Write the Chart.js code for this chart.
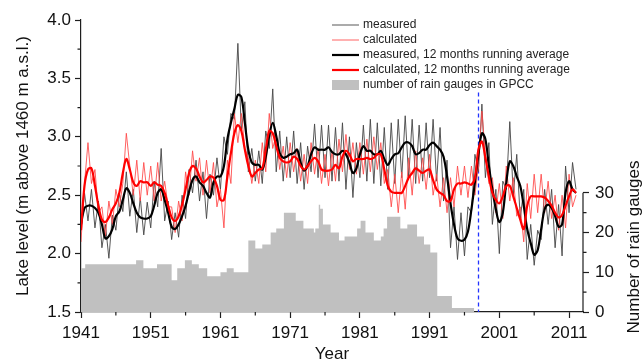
<!DOCTYPE html>
<html>
<head>
<meta charset="utf-8">
<title>Lake level and rain gauges</title>
<script src="https://cdn.jsdelivr.net/npm/chart.js@4.4.0/dist/chart.umd.min.js"></script>
<style>
  html, body { margin: 0; padding: 0; background: #fff; }
  #lakeChart { display: block; }
</style>
</head>
<body>
<canvas id="lakeChart" width="642" height="361"></canvas>
<script>
// half-year samples, first one at January 1941
const startYear = 1941;
const sampleStep = 0.5;

// lake level, m above 1460 m a.s.l.
const measuredLevel = [
  2.20, 2.52, 2.28, 2.55, 2.22, 2.45, 2.05, 2.25, 1.96, 2.33,
  2.20, 2.52, 2.36, 2.70, 2.32, 2.55, 2.18, 2.48, 2.16, 2.44,
  2.22, 2.62, 2.40, 2.90, 2.28, 2.45, 2.12, 2.35, 2.14, 2.50,
  2.30, 2.72, 2.52, 2.80, 2.45, 2.70, 2.30, 2.68, 2.50, 2.82,
  2.55, 3.00, 2.85, 3.20, 3.15, 3.80, 3.05, 3.30, 2.70, 2.90,
  2.62, 2.88, 2.60, 3.05, 2.90, 3.41, 2.70, 3.05, 2.62, 3.00,
  2.65, 3.05, 2.60, 2.95, 2.55, 2.92, 2.70, 3.11, 2.65, 3.10,
  2.65, 3.10, 2.62, 3.08, 2.62, 3.12, 2.55, 3.00, 2.48, 2.95,
  2.65, 3.10, 2.62, 3.15, 2.60, 3.12, 2.58, 3.08, 2.55, 3.12,
  2.60, 3.15, 2.65, 3.18, 2.65, 3.15, 2.60, 3.10, 2.62, 3.12,
  2.65, 3.15, 2.62, 3.08, 2.45, 2.80, 2.05, 2.40, 1.95, 2.35,
  1.98, 2.40, 2.35, 2.85, 2.70, 3.28, 2.65, 2.95, 2.25, 2.55,
  2.00, 2.62, 2.55, 3.13, 2.50, 2.85, 2.30, 2.55, 1.95, 2.25,
  1.90, 2.20, 2.12, 2.55, 2.25, 2.55, 2.05, 2.42, 1.98, 2.75,
  2.35, 2.78, 2.55
];

const calculatedLevel = [
  2.10, 2.60, 2.95, 2.60, 2.72, 2.35, 2.40, 2.15, 2.45, 2.25,
  2.55, 2.40, 2.60, 3.03, 2.75, 2.50, 2.80, 2.45, 2.78, 2.50,
  2.75, 2.45, 2.78, 2.45, 2.62, 2.40, 2.40, 2.18, 2.45, 2.28,
  2.70, 2.50, 2.88, 2.62, 2.82, 2.50, 2.80, 2.52, 2.78, 2.40,
  2.55, 2.22, 2.80, 2.60, 3.20, 2.95, 3.20, 2.90, 2.82, 2.60,
  2.80, 2.60, 2.95, 2.70, 3.20, 2.90, 3.02, 2.72, 2.92, 2.65,
  2.95, 2.70, 2.90, 2.62, 2.85, 2.60, 2.95, 2.68, 2.90, 2.60,
  2.85, 2.58, 2.88, 2.62, 2.98, 2.70, 3.02, 2.72, 2.95, 2.68,
  2.95, 2.68, 2.98, 2.70, 3.00, 2.72, 2.95, 2.60, 2.72, 2.40,
  2.68, 2.35, 2.70, 2.38, 2.82, 2.50, 2.88, 2.60, 2.82, 2.55,
  2.85, 2.50, 2.68, 2.40, 2.65, 2.35, 2.65, 2.40, 2.75, 2.50,
  2.75, 2.48, 2.75, 2.50, 2.75, 3.22, 2.85, 2.60, 2.65, 2.35,
  2.60, 2.30, 2.75, 2.45, 2.65, 2.32, 2.40, 2.10, 2.60, 2.30,
  2.68, 2.35, 2.68, 2.35, 2.62, 2.30, 2.50, 2.20, 2.50, 2.22,
  2.68, 2.40, 2.50
];

// 12 months running averages
const measuredAvg = [
  2.25, 2.39, 2.41, 2.41, 2.39, 2.35, 2.25, 2.13, 2.15, 2.21,
  2.32, 2.36, 2.46, 2.56, 2.52, 2.43, 2.35, 2.31, 2.30, 2.30,
  2.32, 2.41, 2.52, 2.55, 2.46, 2.35, 2.23, 2.21, 2.25, 2.32,
  2.41, 2.53, 2.63, 2.66, 2.61, 2.58, 2.52, 2.48, 2.61, 2.66,
  2.66, 2.75, 2.98, 3.12, 3.24, 3.36, 3.34, 3.12, 2.89, 2.78,
  2.76, 2.76, 2.72, 2.83, 3.01, 3.12, 3.01, 2.86, 2.82, 2.83,
  2.85, 2.86, 2.89, 2.78, 2.71, 2.75, 2.85, 2.91, 2.89, 2.89,
  2.89, 2.91, 2.87, 2.85, 2.85, 2.88, 2.85, 2.78, 2.69, 2.73,
  2.85, 2.92, 2.88, 2.88, 2.85, 2.85, 2.88, 2.81, 2.76, 2.81,
  2.85, 2.86, 2.91, 2.95, 2.95, 2.92, 2.85, 2.86, 2.89, 2.89,
  2.93, 2.95, 2.92, 2.89, 2.83, 2.66, 2.43, 2.25, 2.13, 2.11,
  2.12, 2.19, 2.38, 2.61, 2.85, 3.03, 2.98, 2.75, 2.55, 2.38,
  2.27, 2.35, 2.61, 2.79, 2.75, 2.66, 2.58, 2.41, 2.21, 2.09,
  1.99, 2.03, 2.21, 2.38, 2.42, 2.39, 2.32, 2.23, 2.25, 2.52,
  2.62, 2.55, 2.52
];

const calculatedAvg = [
  2.20, 2.58, 2.72, 2.73, 2.58, 2.41, 2.29, 2.27, 2.31, 2.38,
  2.43, 2.52, 2.69, 2.81, 2.72, 2.61, 2.58, 2.62, 2.61, 2.61,
  2.58, 2.61, 2.59, 2.58, 2.52, 2.41, 2.31, 2.28, 2.32, 2.42,
  2.55, 2.69, 2.75, 2.73, 2.66, 2.61, 2.63, 2.66, 2.65, 2.58,
  2.46, 2.46, 2.66, 2.86, 3.03, 3.10, 3.05, 2.89, 2.75, 2.66,
  2.69, 2.72, 2.73, 2.89, 3.05, 3.03, 2.92, 2.82, 2.79, 2.78,
  2.79, 2.83, 2.81, 2.75, 2.72, 2.75, 2.79, 2.82, 2.79, 2.72,
  2.71, 2.71, 2.72, 2.76, 2.73, 2.83, 2.88, 2.85, 2.79, 2.81,
  2.81, 2.81, 2.82, 2.81, 2.82, 2.85, 2.85, 2.72, 2.58, 2.53,
  2.52, 2.52, 2.52, 2.58, 2.65, 2.69, 2.73, 2.71, 2.69, 2.71,
  2.72, 2.63, 2.55, 2.52, 2.50, 2.45, 2.45, 2.55, 2.60, 2.60,
  2.61, 2.60, 2.59, 2.65, 2.89, 2.96, 2.82, 2.66, 2.52, 2.46,
  2.43, 2.49, 2.58, 2.58, 2.49, 2.39, 2.29, 2.21, 2.41, 2.49,
  2.49, 2.49, 2.49, 2.48, 2.45, 2.41, 2.35, 2.31, 2.33, 2.41,
  2.49, 2.55, 2.52
];

// GPCC rain gauges: count valid from each year until the next one
const gaugeYears = [
  1941.0, 1941.6, 1948.9, 1949.95, 1951.9, 1954.0, 1954.8, 1955.9, 1956.9, 1957.9,
  1959.1, 1961.0, 1961.9, 1962.9, 1965.0, 1966.0, 1967.0, 1968.2, 1969.0, 1970.1,
  1971.8, 1972.9, 1974.4, 1974.6, 1975.1, 1975.3, 1975.7, 1976.8, 1978.0, 1978.8,
  1980.6, 1981.1, 1981.8, 1983.0, 1984.0, 1984.4, 1984.9, 1986.8, 1987.8, 1989.2,
  1990.2, 1991.1, 1992.1, 1994.2, 1997.4
];
const gaugeCounts = [
  11, 12, 13, 11, 12, 8, 11, 13, 12, 11,
  9, 10, 11, 10, 18, 16, 17, 20, 21, 25,
  23, 21, 20, 21, 27, 26, 22, 20, 18, 19,
  21, 23, 20, 18, 19, 21, 24, 21, 22, 19,
  17, 15, 4, 1, 0
];

// axes
const yearTicks = [1941, 1951, 1961, 1971, 1981, 1991, 2001, 2011];
const yearMinor = [1946, 1956, 1966, 1976, 1986, 1996, 2006];
const levelTicks = [1.5, 2.0, 2.5, 3.0, 3.5, 4.0];
const levelMinor = [1.75, 2.25, 2.75, 3.25, 3.75];
const gaugeTicks = [0, 10, 20, 30];
const gaugeMinor = [5, 15, 25];
const gaugeAxisMax = 73.5;

// dashed marker
const markerYear = 1998;
const markerTop = 3.38;

const axisColor = '#1e1e1e';
const fontFamily = '"Liberation Sans", Arial, sans-serif';

const toPoints = arr => arr.map((v, i) => ({ x: startYear + i * sampleStep, y: v }));

Chart.defaults.font.family = fontFamily;
Chart.defaults.color = '#111';

const extras = {
  id: 'extras',
  beforeDatasetsDraw(chart) {
    const { ctx, scales: { x, y } } = chart;
    const px = Math.round(x.getPixelForValue(markerYear)) + 0.5;
    ctx.save();
    ctx.strokeStyle = '#2233ff';
    ctx.lineWidth = 1.3;
    ctx.setLineDash([4, 3]);
    ctx.beginPath();
    ctx.moveTo(px, y.getPixelForValue(markerTop));
    ctx.lineTo(px, y.getPixelForValue(1.5));
    ctx.stroke();
    ctx.restore();
  },
  afterDraw(chart) {
    const { ctx, chartArea: a, scales: { x, y, y1 } } = chart;
    ctx.save();

    // minor ticks and the short right spine
    ctx.strokeStyle = axisColor;
    ctx.lineWidth = 1.2;
    ctx.beginPath();
    yearMinor.forEach(v => {
      const px = x.getPixelForValue(v);
      ctx.moveTo(px, a.bottom);
      ctx.lineTo(px, a.bottom + 3.5);
    });
    levelMinor.forEach(v => {
      const py = y.getPixelForValue(v);
      ctx.moveTo(a.left, py);
      ctx.lineTo(a.left - 3.5, py);
    });
    gaugeMinor.forEach(v => {
      const py = y1.getPixelForValue(v);
      ctx.moveTo(a.right, py);
      ctx.lineTo(a.right + 3.5, py);
    });
    ctx.moveTo(a.right, y1.getPixelForValue(0));
    ctx.lineTo(a.right, y1.getPixelForValue(gaugeTicks[gaugeTicks.length - 1]));
    ctx.stroke();

    // axis titles
    ctx.fillStyle = '#111';
    ctx.font = '17px ' + fontFamily;
    ctx.textAlign = 'center';
    ctx.textBaseline = 'alphabetic';
    ctx.fillText('Year', (a.left + a.right) / 2, 359);

    ctx.save();
    ctx.translate(28, (a.top + a.bottom) / 2);
    ctx.rotate(-Math.PI / 2);
    ctx.fillText('Lake level (m above 1460 m a.s.l.)', 0, 0);
    ctx.restore();

    ctx.save();
    ctx.translate(639, 247);
    ctx.rotate(-Math.PI / 2);
    ctx.fillText('Number of rain gauges', 0, 0);
    ctx.restore();

    // legend
    ctx.font = '12px ' + fontFamily;
    ctx.textAlign = 'left';
    ctx.textBaseline = 'middle';
    chart.data.datasets.forEach((ds, i) => {
      const ly = 25 + i * 15;
      if (ds.fill) {
        ctx.fillStyle = ds.backgroundColor;
        ctx.fillRect(332, ly - 5, 27, 10);
      } else {
        ctx.strokeStyle = ds.borderColor;
        ctx.lineWidth = ds.borderWidth;
        ctx.beginPath();
        ctx.moveTo(332, ly);
        ctx.lineTo(359, ly);
        ctx.stroke();
      }
      ctx.fillStyle = '#222';
      ctx.fillText(ds.label, 363, ly);
    });

    ctx.restore();
  }
};

new Chart(document.getElementById('lakeChart'), {
  type: 'line',
  data: {
    datasets: [
      {
        label: 'measured',
        data: toPoints(measuredLevel),
        borderColor: 'rgba(70,70,70,0.9)',
        borderWidth: 1,
        pointRadius: 0,
        tension: 0,
        yAxisID: 'y',
        order: 5
      },
      {
        label: 'calculated',
        data: toPoints(calculatedLevel),
        borderColor: 'rgba(255,70,70,0.85)',
        borderWidth: 1,
        pointRadius: 0,
        tension: 0,
        yAxisID: 'y',
        order: 4
      },
      {
        label: 'measured, 12 months running average',
        data: toPoints(measuredAvg),
        borderColor: '#000000',
        borderWidth: 2.2,
        pointRadius: 0,
        tension: 0.35,
        yAxisID: 'y',
        order: 3
      },
      {
        label: 'calculated, 12 months running average',
        data: toPoints(calculatedAvg),
        borderColor: '#ff0000',
        borderWidth: 2.2,
        pointRadius: 0,
        tension: 0.35,
        yAxisID: 'y',
        order: 2
      },
      {
        label: 'number of rain gauges in GPCC',
        data: gaugeYears.map((yr, i) => ({ x: yr, y: gaugeCounts[i] })),
        stepped: 'before',
        fill: 'origin',
        backgroundColor: '#c0c0c0',
        borderColor: 'rgba(0,0,0,0)',
        borderWidth: 0,
        pointRadius: 0,
        yAxisID: 'y1',
        order: 10
      }
    ]
  },
  options: {
    responsive: false,
    animation: false,
    layout: { padding: { top: 20, left: 0, right: 0, bottom: 0 } },
    plugins: {
      legend: { display: false },
      tooltip: { enabled: false }
    },
    scales: {
      x: {
        type: 'linear',
        min: 1941,
        max: 2013,
        afterBuildTicks: s => { s.ticks = yearTicks.map(v => ({ value: v })); },
        afterFit: s => { s.height = 49; },
        grid: { display: true, drawOnChartArea: false, drawTicks: true, tickLength: 6, tickColor: axisColor, tickWidth: 1.2 },
        border: { display: true, color: axisColor, width: 1.2 },
        ticks: { font: { size: 17 }, padding: 5, maxRotation: 0, autoSkip: false, callback: v => String(v) }
      },
      y: {
        position: 'left',
        min: 1.5,
        max: 4.0,
        afterBuildTicks: s => { s.ticks = levelTicks.map(v => ({ value: v })); },
        afterFit: s => { s.width = 81; },
        grid: { display: true, drawOnChartArea: false, drawTicks: true, tickLength: 6, tickColor: axisColor, tickWidth: 1.2 },
        border: { display: true, color: axisColor, width: 1.2 },
        ticks: { font: { size: 17 }, padding: 4, callback: v => Number(v).toFixed(1) }
      },
      y1: {
        position: 'right',
        min: 0,
        max: gaugeAxisMax,
        afterBuildTicks: s => { s.ticks = gaugeTicks.map(v => ({ value: v })); },
        afterFit: s => { s.width = 59; },
        grid: { display: true, drawOnChartArea: false, drawTicks: true, tickLength: 6, tickColor: axisColor, tickWidth: 1.2 },
        border: { display: false },
        ticks: { font: { size: 17 }, padding: 6, callback: v => String(v) }
      }
    }
  },
  plugins: [extras]
});
</script>
</body>
</html>
